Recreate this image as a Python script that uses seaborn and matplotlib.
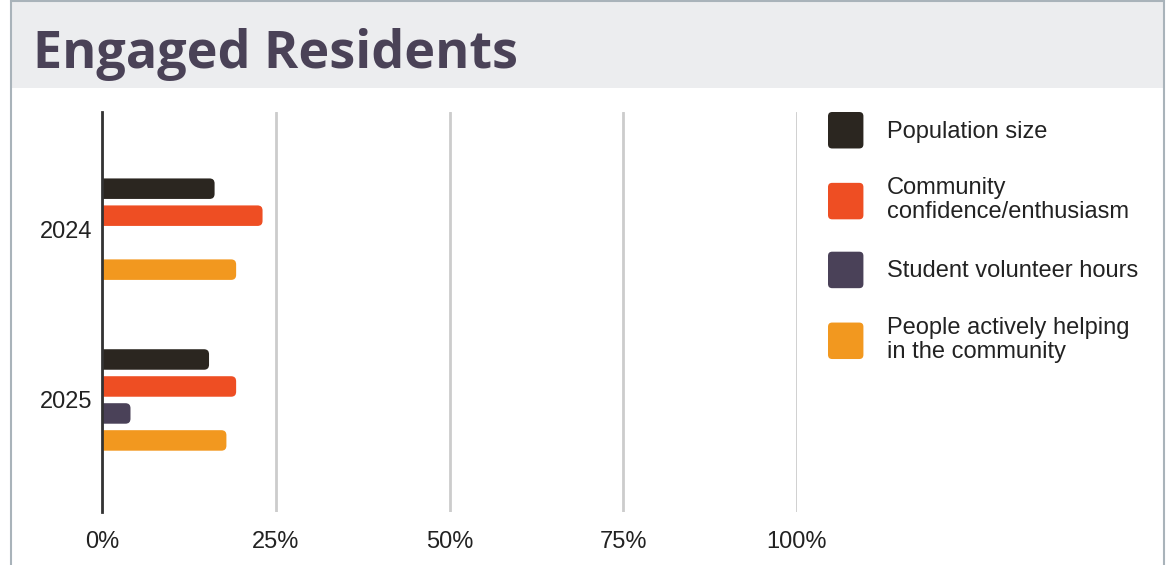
import numpy as np
import pandas as pd
import seaborn as sns
import matplotlib.pyplot as plt
from matplotlib.patches import FancyBboxPatch, Patch, Rectangle
from matplotlib.legend_handler import HandlerPatch
from matplotlib.lines import Line2D

# --- data -------------------------------------------------------------
years = ["2024", "2025"]
measures = [
    "Population size",
    "Community\nconfidence/enthusiasm",
    "Student volunteer hours",
    "People actively helping\nin the community",
]
population_size = [16.2, 15.4]
community_confidence = [23.1, 19.3]
student_volunteer_hours = [0.0, 4.1]
people_helping = [19.3, 17.9]
colors = ["#2b2620", "#ee4e23", "#4a4158", "#f2981f"]
x_ticks = [0, 25, 50, 75, 100]
x_tick_labels = ["0%", "25%", "50%", "75%", "100%"]

df = pd.DataFrame({
    "Year": years * 4,
    "Measure": np.repeat(measures, len(years)),
    "Share": population_size + community_confidence
             + student_volunteer_hours + people_helping,
})

# --- figure -----------------------------------------------------------
sns.set_theme(style="white")
plt.rcParams["font.family"] = ["Liberation Sans", "DejaVu Sans"]

W, H = 1175, 565
fig = plt.figure(figsize=(W / 100, H / 100), dpi=100)
fig.patch.set_facecolor("white")

# header band and frame
fig.patches.append(Rectangle((12 / W, 1 - 88 / H), (1163 - 12) / W, 88 / H,
                             transform=fig.transFigure, fc="#ecedef", ec="none"))
frame = "#a9b3ba"
fig.add_artist(Line2D([11.5 / W, 11.5 / W], [0, 1], color=frame, lw=1.5))
fig.add_artist(Line2D([1163.5 / W, 1163.5 / W], [0, 1], color=frame, lw=1.5))
fig.add_artist(Line2D([11.5 / W, 1163.5 / W], [1 - 0.8 / H, 1 - 0.8 / H], color=frame, lw=1.5))

fig.text(33 / W, 1 - 68 / H, "Engaged Residents", family="Open Sans",
         fontweight="bold", fontsize=37.5, color="#4a4257", va="baseline")

# --- bars -------------------------------------------------------------
ax = fig.add_axes([102 / W, 53 / H, 695 / W, 400 / H])
sns.barplot(data=df, y="Year", x="Share", hue="Measure", hue_order=measures,
            order=years, palette=colors, orient="h", width=0.632, gap=0.24,
            saturation=1, errorbar=None, legend=False, ax=ax)

ax.set_xlim(0, 100)
ax.set_ylim(1.656, -0.686)
ax.set_xticks(x_ticks, x_tick_labels)
ax.set_xlabel("")
ax.set_ylabel("")
ax.xaxis.grid(True, color="#cccccc", lw=2)
ax.yaxis.grid(False)
ax.set_axisbelow(True)
for side in ["top", "right", "bottom"]:
    ax.spines[side].set_visible(False)
ax.spines["left"].set_color("#333333")
ax.spines["left"].set_linewidth(2)
ax.spines["left"].set_zorder(5)
ax.tick_params(axis="x", length=0, pad=14, labelsize=17, labelcolor="#222222")
ax.tick_params(axis="y", length=0, pad=7, labelsize=17, labelcolor="#222222")

# round the outer end of every bar
px_x = ax.bbox.width / 100.0
px_y = ax.bbox.height / (1.656 + 0.686)
aspect = px_x / px_y
r = 5 / px_x
for bar in list(ax.patches):
    x0, y0 = bar.get_x(), bar.get_y()
    w, h = bar.get_width(), bar.get_height()
    fc = bar.get_facecolor()
    bar.remove()
    if w <= 0:
        continue
    ax.add_patch(FancyBboxPatch((x0 - r, y0), w + r, h,
                                boxstyle=f"round,pad=0,rounding_size={r}",
                                mutation_aspect=aspect, fc=fc, ec="none",
                                lw=0, zorder=3))

# --- legend -----------------------------------------------------------
def rounded_handle(legend, orig_handle, xdescent, ydescent, width, height, fontsize):
    return FancyBboxPatch((-xdescent, -ydescent), width, height,
                          boxstyle="round,pad=0,rounding_size=3")

handles = [Patch(facecolor=c, edgecolor="none") for c in colors]
leg = fig.legend(handles, measures, loc="upper left",
                 bbox_to_anchor=(828 / W, 1 - 112 / H), frameon=False,
                 borderpad=0, borderaxespad=0, handlelength=1.5,
                 handleheight=2.0, handletextpad=1.0, labelspacing=1.2,
                 prop={"size": 17},
                 handler_map={Patch: HandlerPatch(patch_func=rounded_handle)})
for t in leg.get_texts():
    t.set_color("#222222")
    t.set_linespacing(1.15)

fig.savefig("out.png", dpi=100)
